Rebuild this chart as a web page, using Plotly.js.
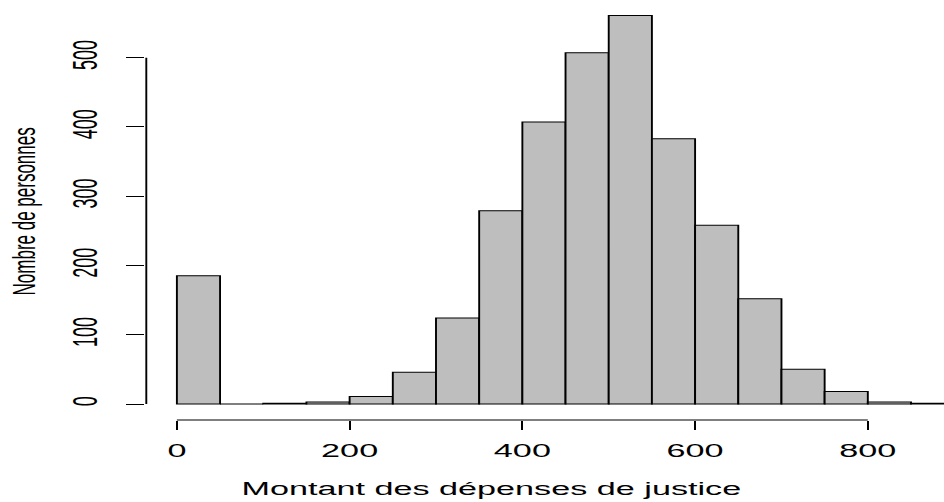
<!DOCTYPE html>
<html>
<head>
<meta charset="utf-8">
<script src="https://cdn.plot.ly/plotly-3.0.1.min.js"></script>
<style>
  html, body { margin: 0; padding: 0; background: #ffffff; overflow: hidden; }
  #wrap { width: 944px; height: 502px; overflow: hidden; position: relative; }
  #chart { position: absolute; left: 0; top: 0; transform-origin: 0 0; }
</style>
</head>
<body>
<div id="wrap"><div id="chart"></div></div>
<script>
// ---- data ----
const breaks = [0, 50, 100, 150, 200, 250, 300, 350, 400, 450, 500, 550, 600, 650, 700, 750, 800, 850, 900];
const counts = [185, 0, 1, 3, 11, 46, 124, 279, 407, 507, 561, 383, 258, 152, 50, 18, 3, 1];
const xTickVals = [0, 200, 400, 600, 800];
const yTickVals = [0, 100, 200, 300, 400, 500];
const xTitle = "Montant des dépenses de justice";
const yTitle = "Nombre de personnes";

// ---- layout geometry (screen pixels of the reference) ----
const S = 1.9;               // horizontal stretch of the reference image
const W = 944 / S, H = 502;
const px = v => v / S;       // screen x -> unscaled x
const X0 = px(176.3), X800 = px(867.5), YAX = px(145.7);
const Y0 = 404, Y500 = 57.7, XAX = 420, TOP = 3;

const l = YAX;
const xper = (X800 - X0) / 800;
const xmin = (l - X0) / xper, xmax = (W - X0) / xper;
const yper = (Y0 - Y500) / 500;
const ymin = -(XAX - Y0) / yper, ymax = (Y0 - TOP) / yper;

const mids = counts.map((c, i) => (breaks[i] + breaks[i + 1]) / 2);
const widths = counts.map((c, i) => breaks[i + 1] - breaks[i]);

const font = "Liberation Sans, Arial, Helvetica, sans-serif";

const trace = {
  type: "bar",
  x: mids,
  y: counts,
  width: widths,
  marker: { color: "#BEBEBE", line: { color: "#000000", width: 1 } },
  hoverinfo: "none"
};

const pw = W - l;
const layout = {
  width: W, height: H,
  margin: { l: l, r: 0, t: TOP, b: H - XAX, pad: 0 },
  paper_bgcolor: "#ffffff", plot_bgcolor: "#ffffff",
  showlegend: false,
  bargap: 0,
  font: { family: font, size: 18, color: "#000000" },
  xaxis: {
    range: [xmin, xmax], showgrid: false, zeroline: false, showline: false,
    tickmode: "array", tickvals: xTickVals, ticktext: xTickVals.map(String),
    ticks: "outside", ticklen: 9, tickwidth: 1, tickcolor: "#000000",
    ticklabelstandoff: 5,
    tickfont: { family: font, size: 18, color: "#000000" }
  },
  yaxis: {
    range: [ymin, ymax], showgrid: false, zeroline: false, showline: false,
    tickmode: "array", tickvals: yTickVals, ticktext: yTickVals.map(String),
    ticks: "outside", ticklen: 9.5, tickwidth: 1, tickcolor: "#000000",
    tickangle: -90, ticklabelstandoff: 8,
    tickfont: { family: font, size: 18, color: "#000000" }
  },
  shapes: [
    { type: "line", xref: "x", yref: "paper", x0: xTickVals[0], x1: xTickVals[xTickVals.length - 1], y0: 0, y1: 0,
      line: { color: "#000000", width: 1 } },
    { type: "line", xref: "paper", yref: "y", x0: 0, x1: 0, y0: yTickVals[0], y1: yTickVals[yTickVals.length - 1],
      line: { color: "#000000", width: 1 } }
  ],
  annotations: [
    { text: xTitle, xref: "paper", yref: "paper",
      x: (px(490) - l) / pw, y: (XAX - 489) / (XAX - TOP),
      xanchor: "center", yanchor: "middle", showarrow: false,
      font: { family: font, size: 18, color: "#000000" } },
    { text: yTitle, xref: "paper", yref: "paper",
      x: (px(24) - l) / pw, y: (XAX - 211.5) / (XAX - TOP),
      xanchor: "center", yanchor: "middle", showarrow: false, textangle: -90,
      font: { family: font, size: 17, color: "#000000" } }
  ]
};

const el = document.getElementById("chart");
el.style.width = W + "px";
el.style.height = H + "px";
el.style.transform = "scaleX(" + S + ")";
Plotly.newPlot(el, [trace], layout, { staticPlot: true, displayModeBar: false, responsive: false });
</script>
</body>
</html>
